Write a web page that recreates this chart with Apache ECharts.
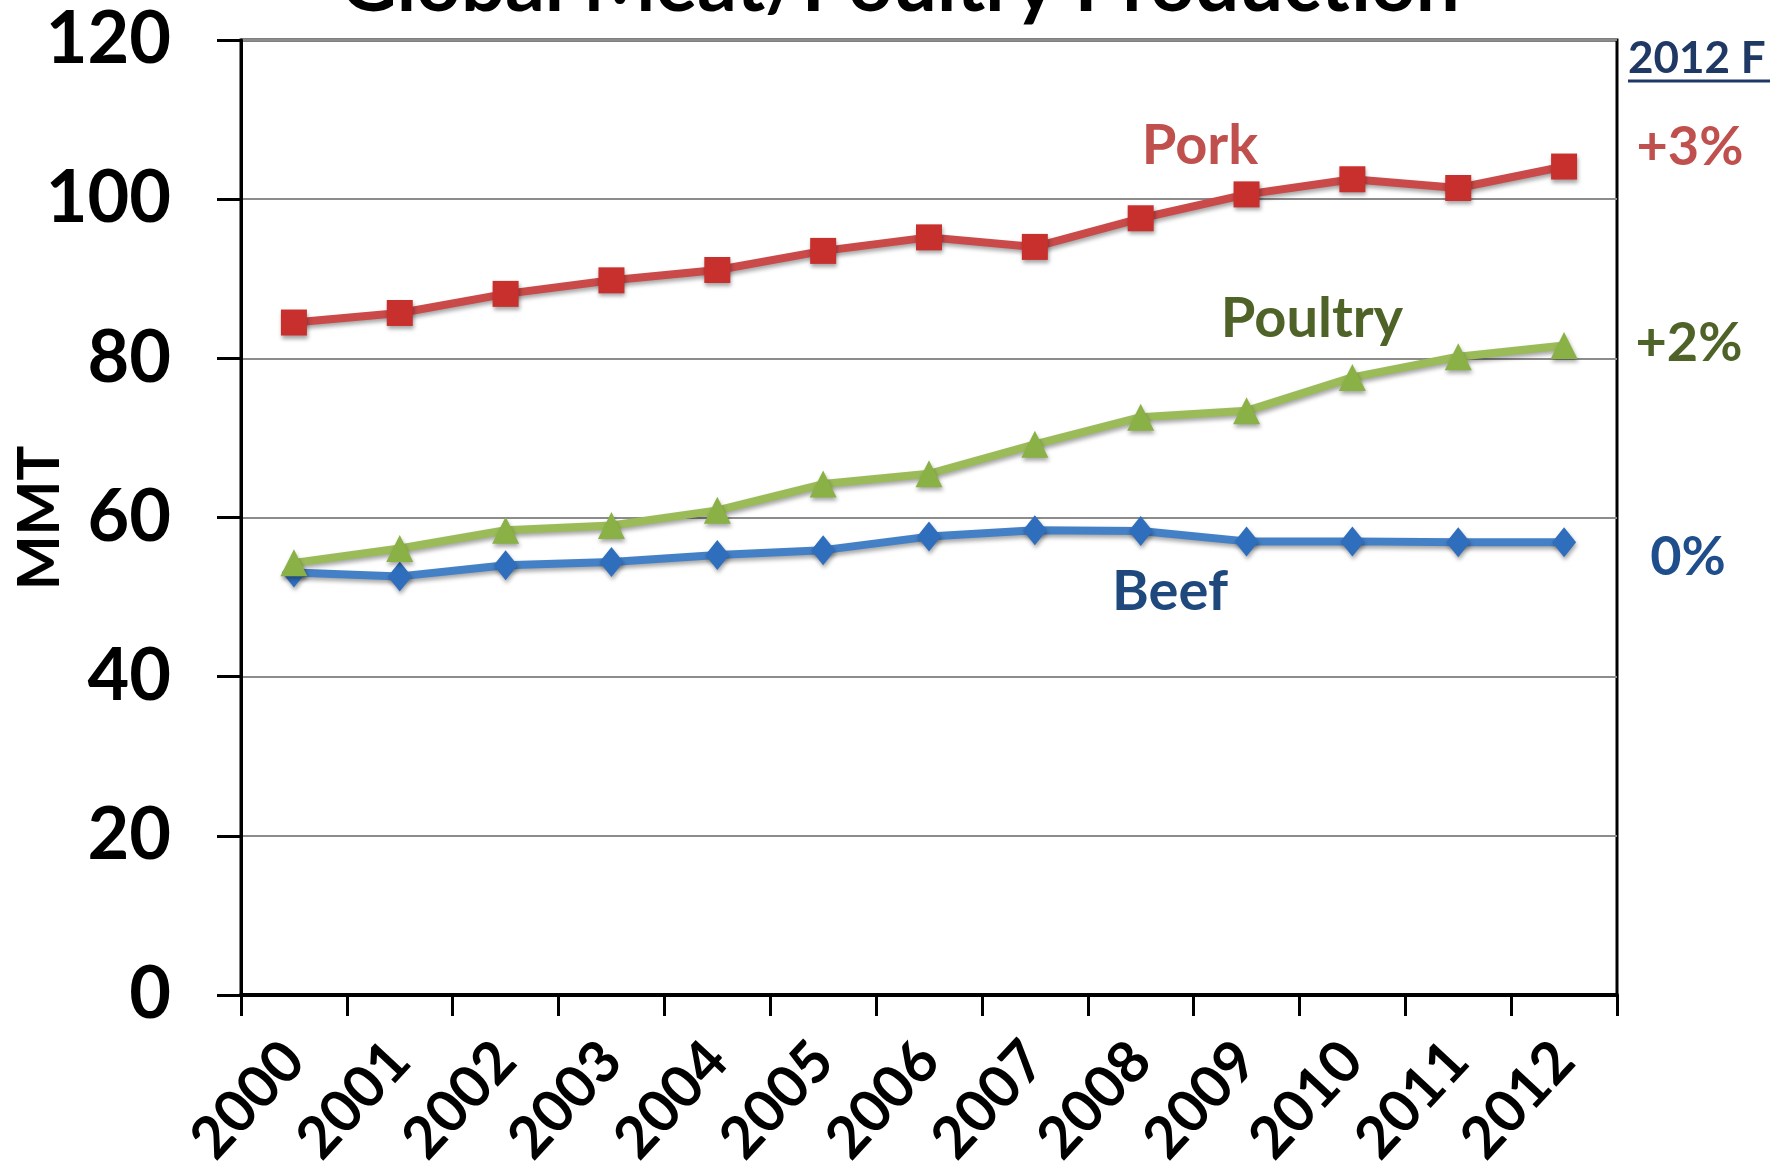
<!DOCTYPE html>
<html>
<head>
<meta charset="utf-8">
<script src="https://cdn.jsdelivr.net/npm/echarts@6/dist/echarts.min.js"></script>
<style>
html,body{margin:0;padding:0;background:#fff;}
#chart{width:1785px;height:1171px;}
</style>
</head>
<body>
<div id="chart"></div>
<script>
var years = ['2000','2001','2002','2003','2004','2005','2006','2007','2008','2009','2010','2011','2012'];
var pork = [84.5, 85.7, 88.1, 89.8, 91.1, 93.5, 95.2, 94.0, 97.6, 100.6, 102.5, 101.4, 104.1];
var poultry = [54.3, 56.1, 58.4, 59.0, 60.9, 64.2, 65.5, 69.2, 72.6, 73.4, 77.6, 80.2, 81.6];
var beef = [53.1, 52.6, 54.0, 54.4, 55.3, 55.9, 57.6, 58.4, 58.3, 57.0, 57.0, 56.9, 56.9];
var yTicks = [0, 20, 40, 60, 80, 100, 120];
var titleText = 'Global Meat/Poultry Production';
var yTitle = 'MMT';
var changeHeader = '2012 F';
var changes = ['+3%', '+2%', '0%'];
var seriesNames = ['Pork', 'Poultry', 'Beef'];

var FONT = 'Lato';
var cRed = '#C0504D', cGreen = '#4F6228', cBlue = '#1F497D';

var chart = echarts.init(document.getElementById('chart'));
var shadow = {shadowColor:'rgba(0,0,0,0.35)', shadowBlur:4, shadowOffsetX:1, shadowOffsetY:3};
function lineSeries(name, data, color, markerColor, symbol, size){
  return {
    name: name, type: 'line', data: data, symbol: symbol, symbolSize: size,
    showAllSymbol: true,
    lineStyle: Object.assign({color: color, width: 8}, shadow),
    itemStyle: Object.assign({color: markerColor, borderWidth: 0}, shadow),
    emphasis: {disabled: true},
    z: 3
  };
}
chart.setOption({
  animation: false,
  backgroundColor: '#ffffff',
  grid: {left: 241, right: 168, top: 40, bottom: 176, outerBoundsMode: 'none', containLabel: false,
    show: true, borderColor: '#000', borderWidth: 3, backgroundColor: 'transparent'},
  xAxis: {
    type: 'category', data: years, boundaryGap: true,
    axisLine: {show: true, lineStyle: {color: '#000', width: 4}},
    axisTick: {show: true, length: 21, lineStyle: {color: '#000', width: 3}, alignWithLabel: false},
    axisLabel: {rotate: 47, margin: 56, color: '#000', fontFamily: FONT, fontWeight: 'bold', fontSize: 58, interval: 0},
    splitLine: {show: false}
  },
  yAxis: {
    type: 'value', min: 0, max: 120, interval: 20,
    axisLine: {show: true, lineStyle: {color: '#000', width: 3}},
    axisTick: {show: true, length: 24, lineStyle: {color: '#000', width: 3}},
    axisLabel: {margin: 70, color: '#000', fontFamily: FONT, fontWeight: 'bold', fontSize: 72,
      formatter: function(v){ return yTicks.indexOf(v) >= 0 ? String(v) : ''; }},
    splitLine: {show: true, lineStyle: {color: '#8c8c8c', width: 2}}
  },
  graphic: [
    {type:'text', x: 900, y: -53, style:{text: titleText, fontFamily: FONT, fontWeight:'bold', fontSize: 78, fill:'#000', align:'center', verticalAlign:'top'}},
    {type:'text', x: 40, y: 518, rotation: Math.PI/2, style:{text: yTitle, fontFamily: FONT, fontWeight:'bold', fontSize: 58, fill:'#000', align:'center', verticalAlign:'middle'}},
    {type:'text', x: 1628, y: 59, style:{text: changeHeader, fontFamily: FONT, fontWeight:'bold', fontSize: 44, fill:'#1F3864', verticalAlign:'middle'}},
    {type:'line', shape:{x1:1628, y1:81, x2:1770, y2:81}, style:{stroke:'#1F3864', lineWidth:3}},
    {type:'text', x: 1690, y: 148, style:{text: changes[0], fontFamily: FONT, fontWeight:'bold', fontSize: 54, fill: cRed, align:'center', verticalAlign:'middle'}},
    {type:'text', x: 1689, y: 344, style:{text: changes[1], fontFamily: FONT, fontWeight:'bold', fontSize: 54, fill: cGreen, align:'center', verticalAlign:'middle'}},
    {type:'text', x: 1688, y: 558, style:{text: changes[2], fontFamily: FONT, fontWeight:'bold', fontSize: 54, fill: '#1F4E8C', align:'center', verticalAlign:'middle'}},
    {type:'text', x: 1200, y: 146, style:{text: seriesNames[0], fontFamily: FONT, fontWeight:'bold', fontSize: 56, fill: cRed, align:'center', verticalAlign:'middle'}},
    {type:'text', x: 1312, y: 319, style:{text: seriesNames[1], fontFamily: FONT, fontWeight:'bold', fontSize: 56, fill: cGreen, align:'center', verticalAlign:'middle'}},
    {type:'text', x: 1170, y: 592, style:{text: seriesNames[2], fontFamily: FONT, fontWeight:'bold', fontSize: 56, fill: cBlue, align:'center', verticalAlign:'middle'}}
  ],
  series: [
    lineSeries('Beef', beef, '#4480C6', '#2F6EBD', 'diamond', [24, 30]),
    lineSeries('Poultry', poultry, '#9BBB59', '#8AB145', 'triangle', 27),
    lineSeries('Pork', pork, '#C94A48', '#C8302E', 'rect', 26)
  ]
});
</script>
</body>
</html>
